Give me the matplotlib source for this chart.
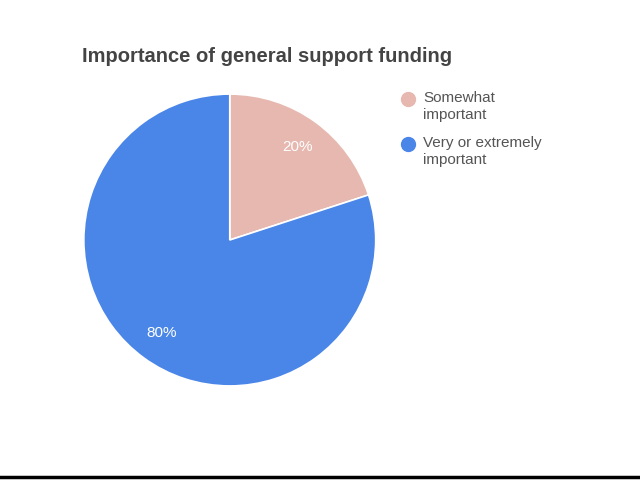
import matplotlib
matplotlib.use("Agg")
import matplotlib.pyplot as plt
from matplotlib.lines import Line2D

labels = ["Somewhat important", "Very or extremely important"]
legend_labels = ["Somewhat\nimportant", "Very or extremely\nimportant"]
values = [20, 80]
colors = ["#e6b8af", "#4a86e8"]

plt.rcParams['font.family'] = ['Liberation Sans', 'DejaVu Sans']
fig = plt.figure(figsize=(6.4, 4.8), dpi=100)
ax = fig.add_axes([0.131, 0.196, 0.456, 0.608])
wedges, texts, autotexts = ax.pie(values, colors=colors, startangle=90, counterclock=False,
                                  autopct='%d%%', pctdistance=0.79,
                                  wedgeprops=dict(edgecolor='white', linewidth=1.2),
                                  textprops=dict(color='white', fontsize=11))
ax.set_xlim(-1, 1)
ax.set_ylim(-1, 1)
ax.set_aspect('equal')
fig.text(82/640, 1-57/480, "Importance of general support funding", fontsize=14.5,
         fontweight='bold', color='#444444', va='center', ha='left')

ys = [99, 144]
for lab, c, y in zip(legend_labels, colors, ys):
    fig.add_artist(Line2D([408/640], [1-y/480], marker='o', markersize=10,
                          color=c, transform=fig.transFigure))
    fig.text(423/640, 1-(y-8)/480, lab, fontsize=11, color='#555555',
             va='top', ha='left', linespacing=1.25)

fig.add_artist(Line2D([0, 1], [1-477/480]*2, color='black', linewidth=2.5,
                      transform=fig.transFigure))
fig.savefig("out.png", dpi=100)
